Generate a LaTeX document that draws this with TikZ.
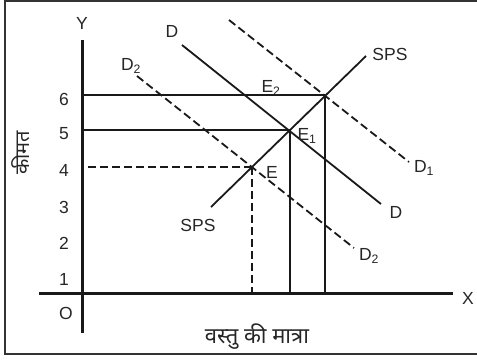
\documentclass[tikz,border=0pt]{standalone}
\usepackage{fontspec}
\setmainfont{Liberation Sans}
\newfontfamily\hindi[Script=Devanagari]{Noto Sans}
\begin{document}
\begin{tikzpicture}[x=1pt,y=-1pt,
  axis/.style={line width=3pt, black!90},
  curve/.style={line width=1.8pt, black!90},
  dcurve/.style={curve, dash pattern=on 8pt off 4pt},
  frame/.style={line width=2.4pt, black!80},
  lbl/.style={font=\fontsize{17.5}{17.5}\selectfont, inner sep=0pt, text=black!85},
  hlbl/.style={font=\hindi\fontsize{22}{22}\selectfont, inner sep=0pt, text=black!85}]
\useasboundingbox (0,0) rectangle (477,360);
\draw[frame] (480,1) -- (5,1) -- (5,354) -- (480,354);
% axes
\coordinate (O) at (82,293);
\coordinate (Ytop) at (82,40);
\coordinate (Ybot) at (82,333);
\coordinate (Xl) at (39,293);
\coordinate (Xr) at (453,293);
\draw[axis] (Ytop) -- (Ybot);
\draw[axis] (Xl) -- (Xr);
% equilibria
\coordinate (E) at (252,167);
\coordinate (E1) at (290,130);
\coordinate (E2) at (325,95);
% curves
\coordinate (S1) at (211,207);
\coordinate (S2) at (366,56);
\coordinate (Da) at (182,45);
\coordinate (Db) at (381,204);
\coordinate (D2a) at (137,76);
\coordinate (D2b) at (354,248);
\coordinate (D1a) at (229,20);
\coordinate (D1b) at (409,162);
\draw[curve] (S1) -- (S2);
\draw[curve] (Da) -- (Db);
\draw[dcurve] (D2a) -- (D2b);
\draw[dcurve] (D1a) -- (D1b);
% projections
\draw[curve] (E2) -- (E2 -| O);
\draw[curve] (E1) -- (E1 -| O);
\draw[dcurve] (E) -- (E -| O);
\draw[curve] (E2) -- (E2 |- O);
\draw[curve] (E1) -- (E1 |- O);
\draw[dcurve] (E) -- (E |- O);
% labels
\node[lbl] (ly) at (82,23) {Y};
\node[lbl] (lx) at (468,298) {X};
\node[lbl] (lo) at (66,313) {O};
\node[lbl] (l1) at (64,279) {1};
\node[lbl] (l2) at (64,243) {2};
\node[lbl] (l3) at (64,207) {3};
\node[lbl] (l4) at (64,170) {4};
\node[lbl] (l5) at (64,134) {5};
\node[lbl] (l6) at (64,99) {6};
\node[lbl] (ld) at (172,31) {D};
\node[lbl] (ldd) at (396,212) {D};
\node[lbl] (ld2) at (131,66) {D\textsubscript{2}};
\node[lbl] (ld2b) at (369,256) {D\textsubscript{2}};
\node[lbl] (ld1) at (424,168) {D\textsubscript{1}};
\node[lbl] (ls1) at (390,54) {SPS};
\node[lbl] (ls2) at (198,225) {SPS};
\node[lbl] (le2) at (271,88) {E\textsubscript{2}};
\node[lbl] (le1) at (307,136) {E\textsubscript{1}};
\node[lbl] (le) at (272,172) {E};
\node[hlbl] (lq) at (257,337) {वस्तु की मात्रा};
\node[hlbl, rotate=90, font=\hindi\fontsize{20}{20}\selectfont] (lp) at (21,153) {कीमत};
\end{tikzpicture}
\end{document}
